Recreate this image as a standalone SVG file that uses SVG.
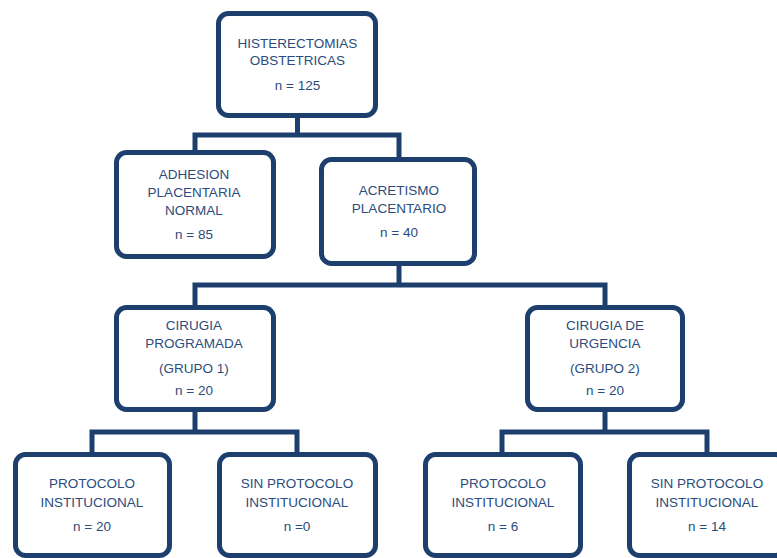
<svg xmlns="http://www.w3.org/2000/svg" width="777" height="558" viewBox="0 0 777 558">
<style>
.box{fill:#fff;stroke:#1d3f6e;stroke-width:5}
.con{fill:none;stroke:#1d3f6e;stroke-width:5;stroke-linejoin:miter}
text{font-family:"Liberation Sans",Arial,sans-serif;font-size:13.5px;fill:#2c4c7c;text-anchor:middle}
</style>
<rect width="777" height="558" fill="#fff"/>
<g id="connectors">
<path class="con" d="M297.5 117 V135 H195 V151 M297.5 135 H399 V158"/>
<path class="con" d="M399 265 V285 H195 V306 M399 285 H605 V306"/>
<path class="con" d="M195 411 V432 H92 V453 M195 432 H297 V453"/>
<path class="con" d="M605 411 V432 H502 V453 M605 432 H707 V453"/>
</g>
<g id="n_hist">
<rect class="box" x="218.5" y="13.5" width="157" height="102" rx="10"/>
<text x="297.5" y="48">HISTERECTOMIAS</text>
<text x="297.5" y="65">OBSTETRICAS</text>
<text x="297.5" y="90">n = 125</text>
</g>
<g id="n_adhesion">
<rect class="box" x="116.5" y="152.5" width="157" height="104" rx="10"/>
<text x="194" y="179">ADHESION</text>
<text x="194" y="197">PLACENTARIA</text>
<text x="194" y="215">NORMAL</text>
<text x="194" y="239">n = 85</text>
</g>
<g id="n_acretismo">
<rect class="box" x="321.5" y="159.5" width="153" height="104" rx="10"/>
<text x="399" y="195">ACRETISMO</text>
<text x="399" y="213">PLACENTARIO</text>
<text x="399" y="237">n = 40</text>
</g>
<g id="n_programada">
<rect class="box" x="116.5" y="307.5" width="157" height="102" rx="10"/>
<text x="194" y="330">CIRUGIA</text>
<text x="194" y="348">PROGRAMADA</text>
<text x="194" y="373">(GRUPO 1)</text>
<text x="194" y="395">n = 20</text>
</g>
<g id="n_urgencia">
<rect class="box" x="527.5" y="307.5" width="155" height="102" rx="10"/>
<text x="605" y="330">CIRUGIA DE</text>
<text x="605" y="348">URGENCIA</text>
<text x="605" y="373">(GRUPO 2)</text>
<text x="605" y="395">n = 20</text>
</g>
<g id="n_p1">
<rect class="box" x="15.5" y="454.5" width="154" height="101" rx="10"/>
<text x="92" y="488">PROTOCOLO</text>
<text x="92" y="507">INSTITUCIONAL</text>
<text x="92" y="531">n = 20</text>
</g>
<g id="n_sp1">
<rect class="box" x="219.5" y="454.5" width="156" height="101" rx="10"/>
<text x="297" y="488">SIN PROTOCOLO</text>
<text x="297" y="507">INSTITUCIONAL</text>
<text x="297" y="531">n =0</text>
</g>
<g id="n_p2">
<rect class="box" x="425.5" y="454.5" width="155" height="101" rx="10"/>
<text x="503" y="488">PROTOCOLO</text>
<text x="503" y="507">INSTITUCIONAL</text>
<text x="503" y="531">n = 6</text>
</g>
<g id="n_sp2">
<rect class="box" x="629.5" y="454.5" width="156" height="101" rx="10"/>
<text x="707" y="488">SIN PROTOCOLO</text>
<text x="707" y="507">INSTITUCIONAL</text>
<text x="707" y="531">n = 14</text>
</g>
</svg>
